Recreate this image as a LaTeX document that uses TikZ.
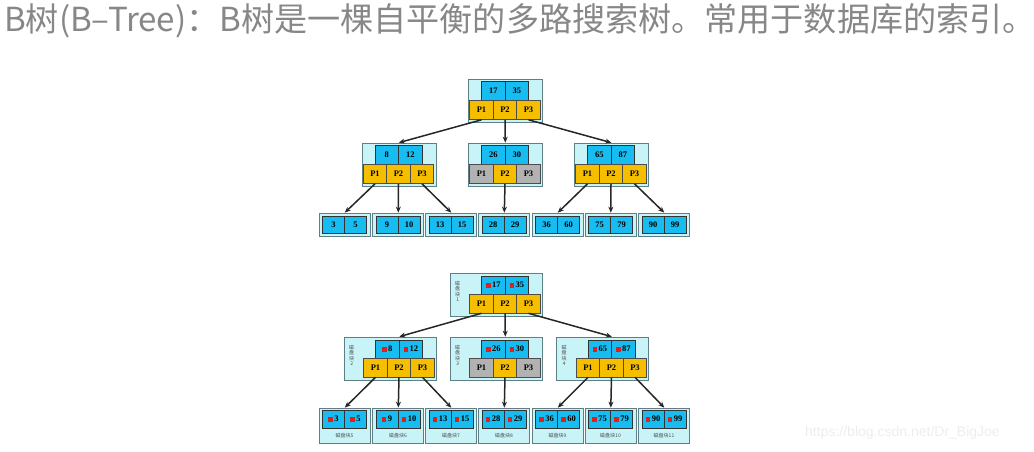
\documentclass[tikz,border=0pt]{standalone}
\usepackage{fontspec}
\setmainfont{Liberation Serif}
\newfontfamily\cjk{Noto Sans CJK SC}
\newfontfamily\webfont{Liberation Sans}
\usepackage{tikz}
\usetikzlibrary{calc,arrows.meta}
\usepackage{xcolor}
\definecolor{blockbg}{HTML}{C8F4F8}
\definecolor{blockline}{HTML}{5F7F86}
\definecolor{keyblue}{HTML}{17BDF0}
\definecolor{ptrgold}{HTML}{F5BF00}
\definecolor{ptrgray}{HTML}{B2B2B2}
\definecolor{markred}{HTML}{E0201C}
\definecolor{titlegray}{HTML}{878787}

\begin{document}
\begin{tikzpicture}[
  x=1pt, y=-1pt,
  link/.style={-{Stealth[length=6pt,width=5pt]}, line width=1.5pt, black!85},
  %link/.style={->, thick},
  ]
  \tikzstyle{disk block}=[draw=blockline, fill=blockbg, line width=0.7pt, inner sep=0]
  \tikzstyle{key cell}=[draw=black!80, fill=keyblue, line width=0.6pt, inner sep=0, minimum width=23.5pt, minimum height=19pt, font=\bfseries\fontsize{8.5}{8.5}\selectfont]
  \tikzstyle{ptr cell}=[draw=black!70, fill=ptrgold, line width=0.6pt, inner sep=0, minimum width=23.5pt, minimum height=19pt, font=\bfseries\fontsize{8.5}{8.5}\selectfont]
  \tikzstyle{leaf cell}=[key cell, minimum width=22pt, minimum height=17pt]
  \tikzstyle{marked}=[execute at begin node={{\color{markred}\rule[-0.3pt]{4.5pt}{4.5pt}}\hspace{1.5pt}}]
  \tikzstyle{block label}=[inner sep=0, align=center, font=\cjk\fontsize{5}{5.5}\selectfont, text=black!70]

  \useasboundingbox (0,0) rectangle (1034,451);
  \node[anchor=west, inner sep=0, text=titlegray, font=\cjk\fontsize{33.1}{33.1}\selectfont] (title) at (4,21) {B树(B–Tree)：B树是一棵自平衡的多路搜索树。常用于数据库的索引。};

  % upper tree
  \foreach \n/\cx/\ty/\ka/\kb/\pc in {t0/505/79/17/35/ptrgold, t1/398.5/143/8/12/ptrgold, t2/505/143/26/30/ptrgray, t3/611/143/65/87/ptrgold}{
    \node[disk block, minimum width=74pt, minimum height=43pt] (\n) at (\cx+0.5,\ty+21.5) {};
    \node[key cell] (\n-k1) at (\cx-11.75,\ty+12) {\ka};
    \node[key cell] (\n-k2) at (\cx+11.75,\ty+12) {\kb};
    \node[ptr cell, fill=\pc] (\n-p1) at (\cx-23.5,\ty+31) {P1};
    \node[ptr cell] (\n-p2) at (\cx,\ty+31) {P2};
    \node[ptr cell, fill=\pc] (\n-p3) at (\cx+23.5,\ty+31) {P3};
  }
  \foreach \n/\lx/\ka/\kb in {t4/344.5/3/5, t5/398/9/10, t6/451/13/15, t7/504/28/29, t8/557.5/36/60, t9/610.5/75/79, t10/664/90/99}{
    \node[disk block, minimum width=51pt, minimum height=23pt] (\n) at (\lx,224.5) {};
    \node[leaf cell] (\n-k1) at (\lx-11,224.5) {\ka};
    \node[leaf cell] (\n-k2) at (\lx+11,224.5) {\kb};
  }
  \foreach \p/\s in {t0-p1/t1, t0-p2/t2, t0-p3/t3, t1-p1/t4, t1-p2/t5, t1-p3/t6, t2-p2/t7, t3-p1/t8, t3-p2/t9, t3-p3/t10}
    \draw[link] (\p.south) -- (\s-k1.east |- \s.north);

  % lower tree, with disk blocks
  \foreach \n/\cx/\ty/\ka/\kb/\pc/\blk in {b0/505/273/17/35/ptrgold/1, b1/399/337/8/12/ptrgold/2, b2/505/337/26/30/ptrgray/3, b3/611.5/337/65/87/ptrgold/4}{
    \node[disk block, minimum width=92pt, minimum height=43pt] (\n) at (\cx-9,\ty+21.5) {};
    \node[block label] (\n-lbl) at ($(\n.west)+(8,-3)$) {磁\\盘\\块\\\blk};
    \node[key cell, marked, minimum height=18pt] (\n-k1) at (\cx-11.75,\ty+12) {\ka};
    \node[key cell, marked, minimum height=18pt] (\n-k2) at (\cx+11.75,\ty+12) {\kb};
    \node[ptr cell, fill=\pc] (\n-p1) at (\cx-23.5,\ty+30.5) {P1};
    \node[ptr cell] (\n-p2) at (\cx,\ty+30.5) {P2};
    \node[ptr cell, fill=\pc] (\n-p3) at (\cx+23.5,\ty+30.5) {P3};
  }
  \foreach \n/\lx/\ka/\kb/\blk in {b4/344.5/3/5/5, b5/398/9/10/6, b6/451/13/15/7, b7/504/28/29/8, b8/557.5/36/60/9, b9/610.5/75/79/10, b10/664/90/99/11}{
    \node[disk block, minimum width=51pt, minimum height=35pt] (\n) at (\lx,425.5) {};
    \node[leaf cell, marked, minimum height=18pt] (\n-k1) at (\lx-11,419) {\ka};
    \node[leaf cell, marked, minimum height=18pt] (\n-k2) at (\lx+11,419) {\kb};
    \node[block label] (\n-lbl) at (\lx,435.5) {磁盘块\blk};
  }
  \foreach \p/\s in {b0-p1/b1, b0-p2/b2, b0-p3/b3, b1-p1/b4, b1-p2/b5, b1-p3/b6, b2-p2/b7, b3-p1/b8, b3-p2/b9, b3-p3/b10}
    \draw[link] (\p.south) -- (\s-k1.east |- \s.north);

  \node[anchor=west, inner sep=0, text=black!7, font=\webfont\fontsize{14}{14}\selectfont] (mark) at (805,433) {https://blog.csdn.net/Dr\_BigJoe};
\end{tikzpicture}
\end{document}
